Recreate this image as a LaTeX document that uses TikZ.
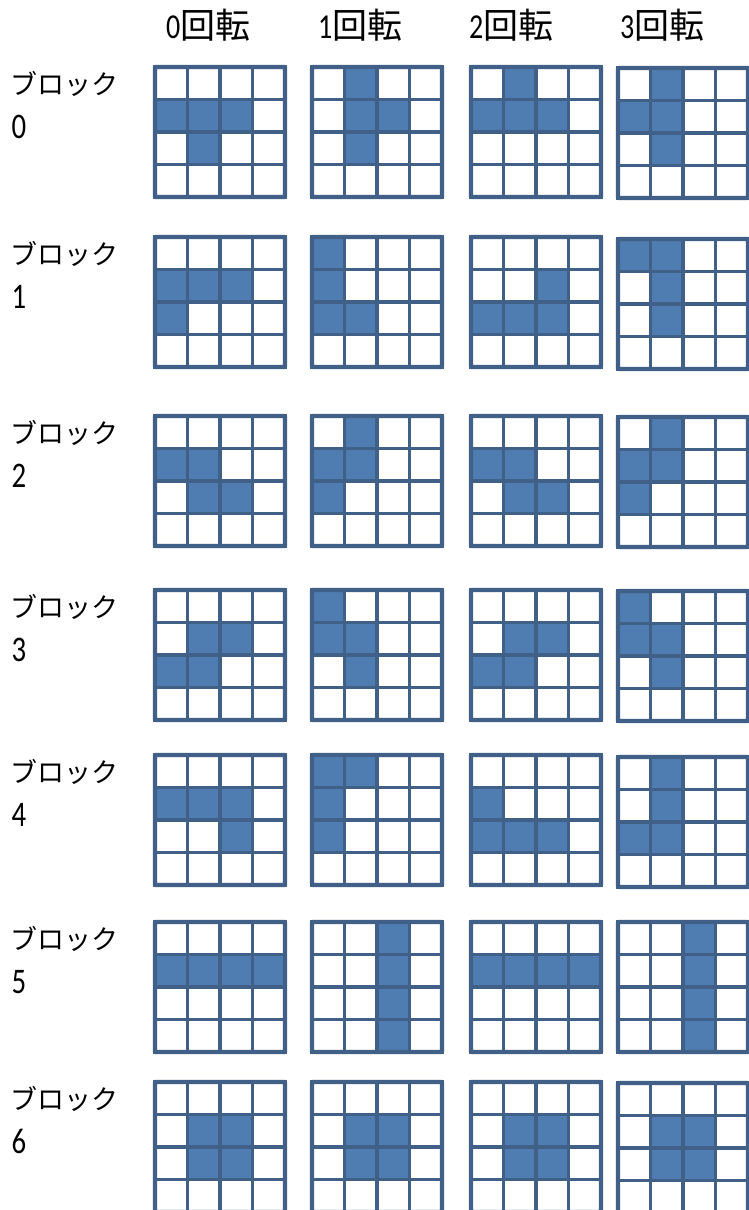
\documentclass[tikz,border=0pt]{standalone}
\usepackage{fontspec}
\setmainfont{Carlito}[Numbers=Lining]
\newfontfamily\cjk{Noto Sans CJK JP}
\definecolor{bfill}{RGB}{79,125,178}
\definecolor{bline}{RGB}{64,96,136}
\tikzset{
  cell/.style={draw=bline,line width=3.2pt,fill=white},
  onecell/.style={draw=bline,line width=3.2pt,fill=bfill},
  outer/.style={draw=bline,line width=4.2pt,rounded corners=1pt},
  lbl/.style={anchor=base west,inner sep=0pt},
}
\newcommand\hdr[1]{\scalebox{0.8}[1]{\fontsize{35}{37}\selectfont #1}{\cjk\fontsize{35}{38}\selectfont 回転}}
\newcommand\rdig[1]{\scalebox{0.8}[1]{\fontsize{36}{38}\selectfont #1}}
\newcommand\tgrid[3]{%
  \begin{scope}[shift={(#1,#2)}]
    \foreach \r in {0,...,3}{\foreach \c in {0,...,3}{%
      \draw[cell] (\c*32.5,\r*32.5) rectangle ++(32.5,32.5);}}
    \foreach \r/\c in {#3}{%
      \draw[onecell] (\c*32.5,\r*32.5) rectangle ++(32.5,32.5);}
    \draw[outer] (0,0) rectangle (130,130);
  \end{scope}}
\begin{document}
\begin{tikzpicture}[x=1pt,y=-1pt]
\useasboundingbox (0,0) rectangle (749,1210);
% headers
\node[lbl] (h0) at (166,38) {\hdr{0}};
\node[lbl] (h1) at (318,38) {\hdr{1}};
\node[lbl] (h2) at (469,38) {\hdr{2}};
\node[lbl] (h3) at (620,38) {\hdr{3}};
% row labels
\foreach \i/\t in {0/67,1/237,2/416,3/590,4/755,5/922,6/1082}{%
  \node[lbl] (b\i) at (10.5,\t+27) {\cjk\fontsize{27}{30}\selectfont ブロック};
  \node[lbl] (n\i) at (11.5,\t+71) {\rdig{\i}};
}
% block 0
\tgrid{155}{67}{1/0,1/1,1/2,2/1}
\tgrid{312}{67}{0/1,1/1,2/1,1/2}
\tgrid{471}{67}{0/1,1/0,1/1,1/2}
\tgrid{618}{68}{0/1,1/0,1/1,2/1}
% block 1
\tgrid{155}{237}{1/0,1/1,1/2,2/0}
\tgrid{312}{237}{0/0,1/0,2/0,2/1}
\tgrid{471}{237}{1/2,2/0,2/1,2/2}
\tgrid{618}{239}{0/0,0/1,1/1,2/1}
% block 2
\tgrid{155}{416}{1/0,1/1,2/1,2/2}
\tgrid{312}{416}{0/1,1/0,1/1,2/0}
\tgrid{471}{416}{1/0,1/1,2/1,2/2}
\tgrid{618}{417}{0/1,1/0,1/1,2/0}
% block 3
\tgrid{155}{590}{1/1,1/2,2/0,2/1}
\tgrid{312}{590}{0/0,1/0,1/1,2/1}
\tgrid{471}{590}{1/1,1/2,2/0,2/1}
\tgrid{618}{591}{0/0,1/0,1/1,2/1}
% block 4
\tgrid{155}{755}{1/0,1/1,1/2,2/2}
\tgrid{312}{755}{0/0,0/1,1/0,2/0}
\tgrid{471}{755}{1/0,2/0,2/1,2/2}
\tgrid{618}{757}{0/1,1/1,2/0,2/1}
% block 5
\tgrid{155}{922}{1/0,1/1,1/2,1/3}
\tgrid{312}{922}{0/2,1/2,2/2,3/2}
\tgrid{471}{922}{1/0,1/1,1/2,1/3}
\tgrid{618}{922}{0/2,1/2,2/2,3/2}
% block 6
\tgrid{155}{1082}{1/1,1/2,2/1,2/2}
\tgrid{312}{1082}{1/1,1/2,2/1,2/2}
\tgrid{471}{1082}{1/1,1/2,2/1,2/2}
\tgrid{618}{1083}{1/1,1/2,2/1,2/2}
\end{tikzpicture}
\end{document}
